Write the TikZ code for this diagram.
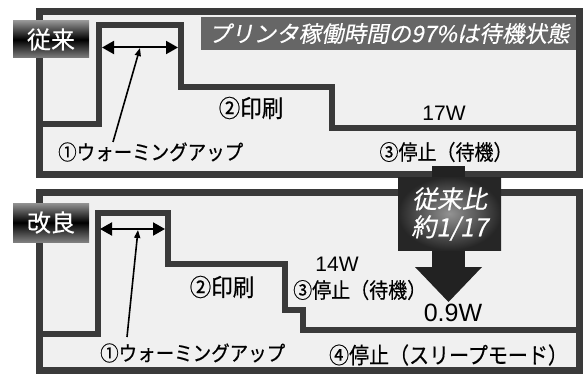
\documentclass[tikz,border=0pt]{standalone}
\usepackage{fontspec}
\usepackage{graphicx}
\setmainfont[FakeBold=0.4]{Noto Sans CJK JP}
\newfontfamily\jpit[FakeSlant=0.2,FakeBold=0.4]{Noto Sans CJK JP}
\newfontfamily\latn{Liberation Sans}
\newcommand\talltxt[1]{\scalebox{1}[1.12]{#1}}
\usetikzlibrary{arrows.meta}
\definecolor{frameC}{HTML}{3A3A3A}
\definecolor{panelC}{HTML}{F0F0F0}
\definecolor{bannerC}{HTML}{666666}
\definecolor{arrowC}{HTML}{222222}
\tikzset{
  panel/.style={draw=frameC, fill=panelC, line width=7pt},
  stepline/.style={draw=frameC, line width=6pt, miter limit=10},
  jtext/.style={inner sep=0pt, font=\fontsize{18.5}{20}\selectfont},
  ltext/.style={inner sep=0pt, font=\latn\fontsize{21}{22}\selectfont},
  dbl/.style={line width=2pt, {Triangle[length=12pt,width=13pt]}-{Triangle[length=12pt,width=13pt]}},
  ptr/.style={line width=1.6pt, -{Triangle[length=8pt,width=6pt]}},
  tagbox/.style={top color=gray!85!white, bottom color=gray, middle color=black},
}
\begin{document}
\begin{tikzpicture}[x=1pt,y=-1pt]
\useasboundingbox (0,0) rectangle (588,374);
% panels
\path[panel] (39.5,11.5) rectangle (579.5,174.5);
\path[panel] (39.5,192.5) rectangle (579.5,370.5);
% banner
\fill[bannerC] (201,17) rectangle (576,50);
\node[inner sep=0pt, text=white, font=\jpit\fontsize{22.5}{24}\selectfont] (banner) at (389,33.5) {プリンタ稼働時間の97\%は待機状態};
% step lines
\draw[stepline] (43,124) -- (99,124) -- (99,25.5) -- (181,25.5) -- (181,87) -- (332,87) -- (332,128) -- (576,128);
\draw[stepline] (43,334) -- (98,334) -- (98,212.5) -- (168,212.5) -- (168,263.5) -- (284.5,263.5) -- (284.5,310) -- (303,310) -- (303,330) -- (576,330);
% tags
\shade[tagbox] (13,21) rectangle (89,58);
\node[inner sep=0pt, text=white, font=\fontsize{24}{26}\selectfont] (tagA) at (51,39.5) {従来};
\shade[tagbox] (13,203) rectangle (89,242);
\node[inner sep=0pt, text=white, font=\fontsize{24}{26}\selectfont] (tagB) at (51,222.5) {改良};
% top panel texts
\node[jtext, anchor=west] (wuA) at (58,152) {\talltxt{①ウォーミングアップ}};
\node[jtext, font=\fontsize{21.5}{23}\selectfont] (prA) at (251,108) {\talltxt{②印刷}};
\node[ltext] (wA) at (444,113) {17W};
\node[jtext, font=\fontsize{19}{21}\selectfont] (stA) at (446,152) {\talltxt{③停止（待機）}};
\coordinate (dA1) at (102,47.5);
\coordinate (dA2) at (178,47.5);
\coordinate (mA) at (140,48);
\coordinate (pA) at (113,142);
\draw[dbl] (dA1) -- (dA2);
\draw[ptr] (pA) -- (mA);
% bottom panel texts
\node[jtext, anchor=west] (wuB) at (100,353) {\talltxt{①ウォーミングアップ}};
\node[jtext, font=\fontsize{21.5}{23}\selectfont] (prB) at (222,287) {\talltxt{②印刷}};
\node[ltext] (wB) at (337,264) {14W};
\node[jtext, anchor=west, font=\fontsize{19}{21}\selectfont] (stB) at (293,290) {\talltxt{③停止（待機）}};
\node[ltext, font=\latn\fontsize{25}{26}\selectfont] (wC) at (453,313) {0.9W};
\node[jtext, font=\fontsize{20}{21}\selectfont] (slB) at (448.5,355) {\talltxt{④停止（スリープモード）}};
\coordinate (dB1) at (100,229);
\coordinate (dB2) at (165,229);
\coordinate (mB) at (138,230);
\coordinate (pB) at (127,337);
\draw[dbl] (dB1) -- (dB2);
\draw[ptr] (pB) -- (mB);
% big arrow
\fill[arrowC] (432,166) rectangle (465,267);
\fill[arrowC] (415,267) -- (482,267) -- (448.5,302) -- cycle;
\shade[inner color=gray!85!white, outer color=black!85] (398,177) rectangle (501,250);
\node[inner sep=0pt, text=white, align=center, font=\jpit\fontsize{25}{28}\selectfont] (ratio) at (449.5,214) {従来比\\約1/17};
\end{tikzpicture}
\end{document}
